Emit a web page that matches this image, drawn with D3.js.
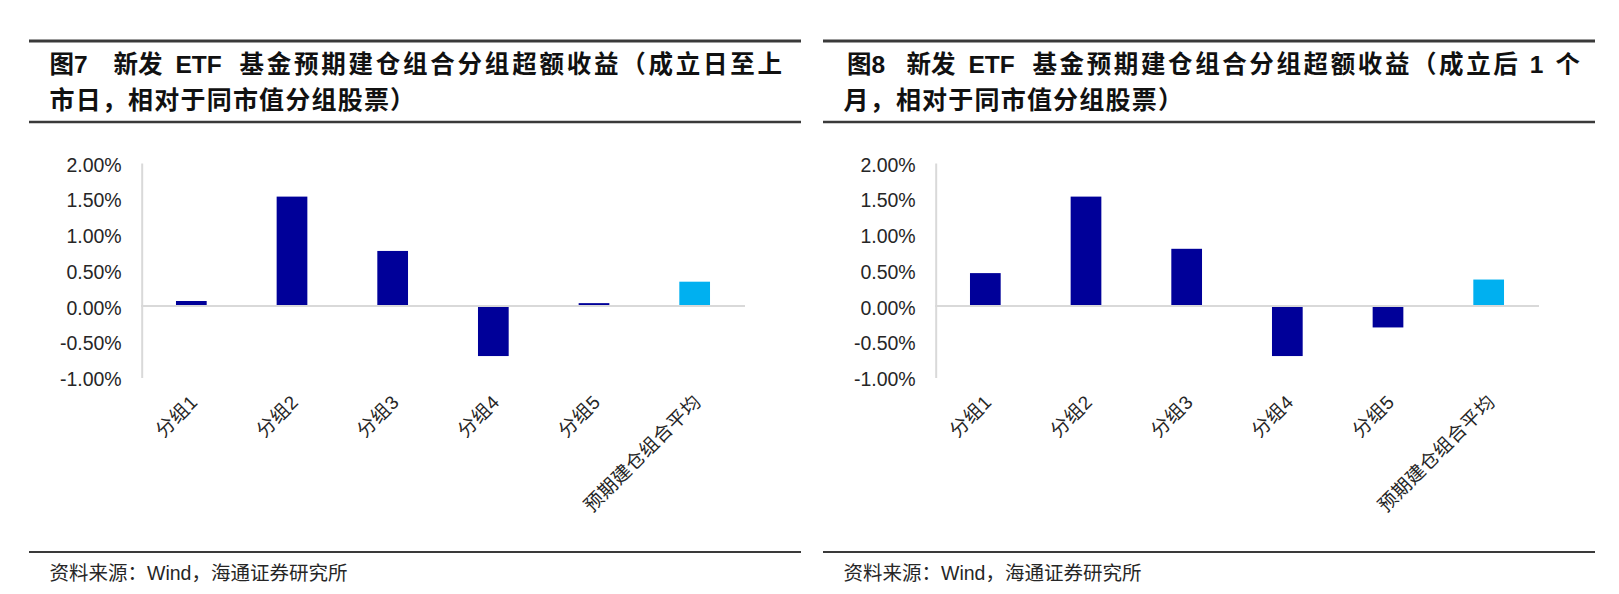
<!DOCTYPE html>
<html>
<head>
<meta charset="utf-8">
<script src="https://cdn.jsdelivr.net/npm/d3@7"></script>
<style>
  html, body { margin: 0; padding: 0; background: #ffffff; }
  svg { display: block; }
</style>
</head>
<body>
<svg id="chart" width="1619" height="594"></svg>
<script>
// ---------- data ----------
const categories = ["分组1", "分组2", "分组3", "分组4", "分组5", "预期建仓组合平均"];
const valuesFig7 = [0.07, 1.53, 0.77, -0.70, 0.04, 0.34];   // %
const valuesFig8 = [0.46, 1.53, 0.80, -0.70, -0.30, 0.37];  // %
const yTicks = [-1.0, -0.5, 0.0, 0.5, 1.0, 1.5, 2.0];
const titleSegmentsFig7 = ["图7", "新发", "ETF", "基金预期建仓组合分组超额收益（成立日至上"];
const titleLine2Fig7 = "市日，相对于同市值分组股票）";
const titleSegmentsFig8 = ["图8", "新发", "ETF", "基金预期建仓组合分组超额收益（成立后 1 个"];
const titleLine2Fig8 = "月，相对于同市值分组股票）";
const sourceText = "资料来源：Wind，海通证券研究所";

// ---------- drawing ----------
const svg = d3.select("#chart");
const LATIN = "'Liberation Sans', Arial, 'Noto Sans CJK SC', sans-serif";
const CJK = "'Liberation Sans', 'Noto Sans CJK SC', sans-serif";
const barColor = "#000099";
const avgColor = "#00B0F0";
const gridColor = "#d9d9d9";
const textColor = "#262626";

function panel(opts) {
  const g = svg.append("g").attr("transform", `translate(${opts.dx},0)`);

  // header rules
  g.append("line").attr("x1", 29).attr("x2", 801).attr("y1", 41).attr("y2", 41)
    .attr("stroke", "#3a3a3a").attr("stroke-width", 3);
  g.append("line").attr("x1", 29).attr("x2", 801).attr("y1", 122).attr("y2", 122)
    .attr("stroke", "#3a3a3a").attr("stroke-width", 2.5);
  g.append("line").attr("x1", 29).attr("x2", 801).attr("y1", 552).attr("y2", 552)
    .attr("stroke", "#3a3a3a").attr("stroke-width", 2);

  // title line 1 (justified segments)
  const t1 = g.append("text").attr("y", 73)
    .attr("font-family", CJK).attr("font-weight", "bold").attr("font-size", 24.5)
    .attr("fill", "#111");
  opts.segments.forEach((s, i) => {
    const ts = t1.append("tspan").attr("x", opts.segX[i]).text(s);
    if (i === opts.segments.length - 1) {
      ts.attr("textLength", opts.segEnd - opts.segX[i]).attr("lengthAdjust", "spacing");
    }
  });
  g.append("text").attr("x", 49.5).attr("y", 109)
    .attr("font-family", CJK).attr("font-weight", "bold").attr("font-size", 25)
    .attr("letter-spacing", 1.2)
    .attr("fill", "#111")
    .text(opts.line2);

  // source
  g.append("text").attr("x", 49.5).attr("y", 580)
    .attr("font-family", CJK).attr("font-size", 19.5).attr("fill", textColor)
    .text(sourceText);

  // scales
  const x = d3.scaleBand().domain(categories).range([141, 745]).padding(0);
  const y = d3.scaleLinear().domain([-1, 2]).range([377.5, 163]);
  const bw = x.step() * 0.305;

  // y axis
  const yAxis = d3.axisLeft(y).tickValues(yTicks).tickSize(0).tickPadding(20)
    .tickFormat(d => (d < 0 ? "-" : "") + Math.abs(d).toFixed(2) + "%");
  const ya = g.append("g").attr("transform", "translate(141.7,0)").call(yAxis);
  ya.select(".domain").attr("stroke", gridColor).attr("stroke-width", 2);
  ya.selectAll("text").attr("font-family", LATIN).attr("font-size", 19.5)
    .attr("fill", textColor).attr("dy", "0.42em");

  // zero line
  g.append("line").attr("x1", x.range()[0]).attr("x2", x.range()[1])
    .attr("y1", y(0)).attr("y2", y(0)).attr("stroke", gridColor).attr("stroke-width", 2);

  // bars
  g.selectAll("rect.bar").data(opts.values).enter().append("rect")
    .attr("class", "bar")
    .attr("x", (d, i) => x(categories[i]) + (x.step() - bw) / 2)
    .attr("width", bw)
    .attr("y", d => d >= 0 ? y(d) : y(0) + 1)
    .attr("height", d => Math.max(0, d >= 0 ? y(0) - 1 - y(d) : y(d) - y(0) - 1))
    .attr("fill", (d, i) => i === categories.length - 1 ? avgColor : barColor);

  // x labels
  g.selectAll("text.xl").data(categories).enter().append("text")
    .attr("class", "xl")
    .attr("transform", d => `translate(${x(d) + x.step() / 2 + 4},${y(-1) + 22}) rotate(-45)`)
    .attr("text-anchor", "end")
    .attr("dominant-baseline", "middle")
    .attr("font-family", CJK).attr("font-size", 19).attr("fill", textColor)
    .attr("letter-spacing", 0.5)
    .text(d => d);
}

panel({ dx: 0, values: valuesFig7, segments: titleSegmentsFig7,
        segX: [49.5, 113.5, 175.5, 239.5], segEnd: 782, line2: titleLine2Fig7 });
panel({ dx: 794, values: valuesFig8, segments: titleSegmentsFig8,
        segX: [53, 112.5, 174.5, 238.5], segEnd: 786, line2: titleLine2Fig8 });
</script>
</body>
</html>
